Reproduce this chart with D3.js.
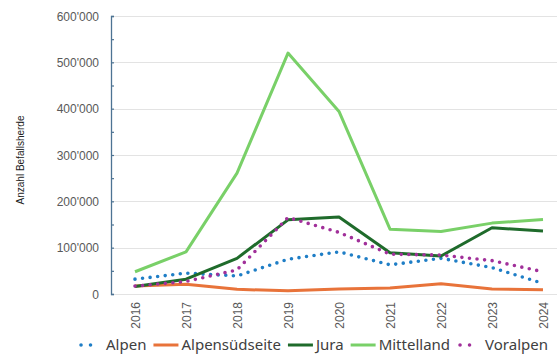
<!DOCTYPE html>
<html>
<head>
<meta charset="utf-8">
<script src="https://cdn.jsdelivr.net/npm/d3@7"></script>
<style>
  html, body { margin: 0; padding: 0; background: #fff; }
  svg { display: block; }
</style>
</head>
<body>
<svg id="chart" width="557" height="356"></svg>
<script>
// Befallsherde pro Region und Jahr
const years = ["2016", "2017", "2018", "2019", "2020", "2021", "2022", "2023", "2024"];
const alpen         = [32000, 45000, 39000, 75000, 91000, 63000, 77000, 57000, 23000];
const alpensuedseite = [17000, 21000, 10000, 7000, 11000, 13000, 22000, 11000, 9000];
const jura          = [16000, 32000, 77000, 160000, 166000, 89000, 82000, 143000, 136000];
const mittelland    = [48000, 91000, 261000, 520000, 394000, 140000, 135000, 153000, 161000];
const voralpen      = [17000, 27000, 52000, 165000, 133000, 86000, 84000, 72000, 48000];
const yTicks = [0, 100000, 200000, 300000, 400000, 500000, 600000];

const series = [
  { name: "Alpen", values: alpen, color: "#1f7ec6", dotted: true },
  { name: "Alpensüdseite", values: alpensuedseite, color: "#e8733a", dotted: false },
  { name: "Jura", values: jura, color: "#1f6b2b", dotted: false },
  { name: "Mittelland", values: mittelland, color: "#79d068", dotted: false },
  { name: "Voralpen", values: voralpen, color: "#a1309a", dotted: true }
];

const svg = d3.select("#chart");
const axisX = 111, plotRight = 557, plotTop = 16, plotBottom = 294;

const x = d3.scalePoint().domain(years).range([135, 543]);
const y = d3.scaleLinear().domain([0, 600000]).range([plotBottom, plotTop]);

const fmt = v => d3.format(",")(v).replace(/,/g, "'");

// Gitterlinien
svg.append("g")
  .selectAll("line")
  .data(yTicks)
  .join("line")
  .attr("x1", axisX).attr("x2", plotRight)
  .attr("y1", d => Math.round(y(d)) + 0.5).attr("y2", d => Math.round(y(d)) + 0.5)
  .attr("stroke", "#e3e3e3").attr("stroke-width", 1);

// Y-Achse mit kleinen Ticks alle 50'000
const yAxis = d3.axisRight(y)
  .tickValues(d3.range(0, 600001, 50000))
  .tickSize(3)
  .tickFormat("");
const gAxis = svg.append("g").attr("transform", `translate(${axisX},0)`).call(yAxis);
gAxis.select(".domain").attr("stroke", "#4d7393").attr("stroke-width", 1.3);
gAxis.selectAll(".tick line").attr("stroke", "#4d7393").attr("stroke-width", 1.2);

// Y-Beschriftungen
svg.append("g")
  .selectAll("text")
  .data(yTicks)
  .join("text")
  .attr("x", 99)
  .attr("y", d => y(d) + 4.5)
  .attr("text-anchor", "end")
  .attr("font-family", "Liberation Sans, Arial, sans-serif")
  .attr("font-size", 12)
  .attr("fill", "#595959")
  .text(d => fmt(d));

// X-Beschriftungen (gedreht)
svg.append("g")
  .selectAll("text")
  .data(years)
  .join("text")
  .attr("transform", d => `translate(${x(d) + 4.5},302) rotate(-90)`)
  .attr("text-anchor", "end")
  .attr("font-family", "Liberation Sans, Arial, sans-serif")
  .attr("font-size", 12)
  .attr("fill", "#595959")
  .text(d => d);

// Achsentitel
svg.append("text")
  .attr("transform", "translate(24,160) rotate(-90)")
  .attr("text-anchor", "middle")
  .attr("font-family", "Liberation Sans, Arial, sans-serif")
  .attr("font-size", 10)
  .attr("fill", "#222")
  .text("Anzahl Befallsherde");

// Linien
const line = d3.line()
  .x((d, i) => x(years[i]))
  .y(d => y(d));

svg.append("g")
  .selectAll("path")
  .data(series)
  .join("path")
  .attr("d", s => line(s.values))
  .attr("fill", "none")
  .attr("stroke", s => s.color)
  .attr("stroke-width", s => s.dotted ? 3.6 : 3)
  .attr("stroke-linecap", s => s.dotted ? "round" : "butt")
  .attr("stroke-linejoin", "round")
  .attr("stroke-dasharray", s => s.dotted ? "0 7.6" : null);

// Legende
const legend = svg.append("g");
const legendFont = "Noto Sans, Open Sans, sans-serif";
const markerW = 25, gapText = 3, gapItem = 7, legendY = 345;
const items = legend.selectAll("g").data(series).join("g");
items.append("text")
  .attr("font-family", legendFont)
  .attr("font-size", 15)
  .attr("fill", "#404040")
  .attr("y", legendY + 5)
  .text(s => s.name);
let widths = [];
items.select("text").each(function () { widths.push(this.getComputedTextLength()); });
const total = d3.sum(widths) + series.length * (markerW + gapText) + (series.length - 1) * gapItem;
let cx = 313 - total / 2;
items.each(function (s, i) {
  const g = d3.select(this);
  g.insert("line", "text")
    .attr("x1", s.dotted ? cx + 3 : cx).attr("x2", s.dotted ? cx + markerW - 3 : cx + markerW)
    .attr("y1", legendY).attr("y2", legendY)
    .attr("stroke", s.color)
    .attr("stroke-width", s.dotted ? 3.6 : 3)
    .attr("stroke-linecap", s.dotted ? "round" : "butt")
    .attr("stroke-dasharray", s.dotted ? "0 9.5" : null);
  g.select("text").attr("x", cx + markerW + gapText);
  cx += markerW + gapText + widths[i] + gapItem;
});
</script>
</body>
</html>
